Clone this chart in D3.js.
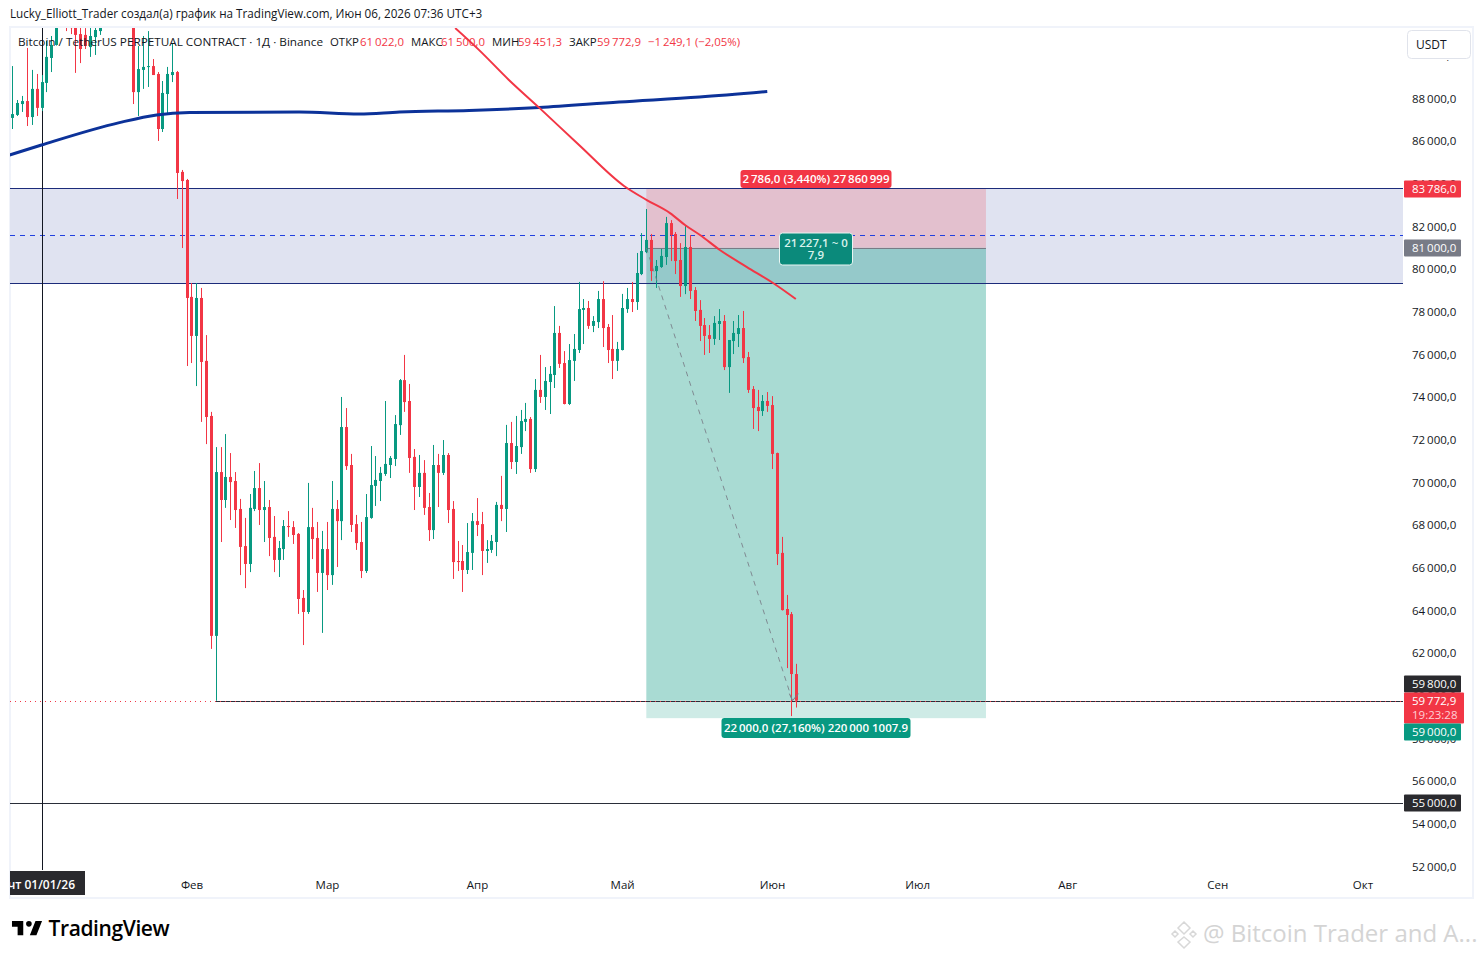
<!DOCTYPE html>
<html><head><meta charset="utf-8">
<script src="https://cdn.jsdelivr.net/npm/d3@7/dist/d3.min.js"></script>
<style>
html,body{margin:0;padding:0;background:#fff}
svg{display:block}
text{font-family:"Open Sans",sans-serif}
</style></head><body><svg id="c" width="1483" height="959"></svg>
<script>
// ---------- data (prices), one entry per trading day from 26 Dec 2025
const firstDay = Date.UTC(2025,11,26);
const opens = [87090,87230,87740,87880,87130,88450,87560,88730,89900,90510,91600,92300,91700,91400,91020,90980,90410,90880,91160,91600,93000,93500,96500,95600,95100,93600,88300,89340,89480,89520,89150,86570,88210,89100,89240,84560,84180,78700,76870,78650,75700,73120,62810,70490,69180,70260,70070,68760,67020,66180,68760,69740,68710,68850,67450,66370,66880,67960,67910,67590,64590,63930,67910,67400,65760,66880,65660,68760,68190,72600,70820,68050,67210,65850,68340,69840,70070,70400,70820,71100,72690,74800,73820,71200,69790,70450,68850,67770,70820,70450,71290,68760,66320,66320,65900,66700,68190,68050,66790,66840,67210,68950,68760,71850,70960,71660,72840,72980,70630,74340,74010,74710,75040,77010,75600,73680,75700,76210,78090,78180,77340,77520,78600,77290,76260,75700,76210,78130,78600,78460,79770,80800,81370,79910,80100,80570,82160,81650,80430,79210,81040,79020,78090,77380,76910,76730,77430,77570,75410,76630,76960,77240,75880,74380,73540,73350,73820,73630,71380,66700,64070,63830,61022];
const highs = [89520,87930,88120,90370,89340,89150,89100,90700,90930,91680,92700,92800,92500,92000,91400,91300,91400,91500,92000,93500,94500,97000,97800,96500,95500,94000,90460,90930,91160,89850,89240,88820,89480,90560,89290,84650,84230,79350,79350,79120,76910,73310,71660,71660,72270,71380,70490,69230,68340,69460,70540,70910,70070,69180,68430,67260,68240,68660,68190,67630,64960,69980,68810,68150,67730,68150,70070,69180,74010,73490,71340,68480,68150,69460,71710,71240,70730,73820,71240,73160,74850,75980,74620,71570,71290,71050,69510,71760,71340,71990,71380,69130,67260,67070,68100,68570,69270,68620,67300,67540,69090,70310,72700,72840,73120,73400,73730,73070,74850,75980,75410,75460,78270,77340,76160,76490,76960,79400,78600,78510,77800,78980,79440,77430,77850,76590,78840,79120,79400,80760,81690,82820,81650,80430,80950,82450,82300,81740,81220,82020,81600,79160,78550,77710,77380,77800,78130,77850,76680,77570,77850,78040,76120,74520,74340,74100,74240,74050,71400,67450,64730,63930,61500];
const lows = [86570,87180,87370,86710,86760,87180,87410,88300,89240,90480,91500,91160,91020,89200,89660,90320,89950,90040,90980,91400,92300,93000,95000,94500,92800,87740,87180,88450,88540,89100,86010,86430,87230,88770,83290,80990,75460,75600,74520,72840,71800,62200,59770,67210,68810,68240,67870,65660,65050,65800,68660,68010,67210,66550,65800,65570,66370,67450,67120,63840,62380,63840,66410,64870,62950,64960,65200,66040,67300,70590,67680,66840,65520,65760,68300,68900,69130,70310,70210,70770,72230,73310,70450,68710,69320,68480,67260,67350,68850,70350,68100,65480,65850,64870,65710,65900,67490,65660,66230,66700,66550,68190,67680,70630,70400,71340,72410,70450,70490,73730,73400,73210,74430,75370,73660,73630,74760,76070,76490,77200,77050,77240,76350,75600,74850,75230,76190,77950,77990,78090,79720,80750,79450,79120,80060,80200,80380,79770,78700,78830,78600,77570,76630,75980,76070,76450,76680,75270,74200,76020,76350,75600,74200,72510,72410,73120,73310,70630,66130,64000,61300,59050,59451.3];
const closes = [87270,87790,87880,87130,88450,87560,88770,89950,90510,91350,92400,91500,91300,90980,90320,90460,90930,91210,91350,93000,93500,96500,95600,95100,93600,88300,89380,89480,89520,89100,86570,88260,89150,89240,84510,84130,78650,76870,78650,75650,73070,62810,70490,69180,70260,70020,68710,66980,66180,68810,69740,68710,68850,67400,66370,66930,67960,67910,67540,64540,63930,67910,67350,65760,66880,65660,68760,68190,72600,70770,68010,67160,65850,68380,69880,70120,70450,70870,71150,72740,74800,73770,71150,69790,70450,68810,67770,70820,70450,71290,68710,66270,66270,65900,66740,68190,68010,66790,66880,67260,68950,68760,71850,70960,71710,72880,72980,70630,74340,74010,74760,75090,77010,75560,73680,75740,76260,78130,78180,77340,77570,78600,77240,76210,75700,76260,78180,78600,78460,79820,80850,81370,79910,80150,80620,82160,81600,80380,79210,81040,78980,78040,77340,76870,76730,77480,77570,75410,76680,77010,77240,75830,74340,73490,73350,73820,73590,71340,66650,64020,63790,61022,59772.9];
const maDays = [-6.6,0,16.1,23.8,30.6,53.3,65.7,74,88.4,102.9,119.4,136,150];
const maPrices = [85350,85820,86870,87230,87340,87370,87270,87370,87440,87580,87840,88070,88330];
const curveDays = [85.5,90.4,96.6,102.9,111.1,120.4,125.1,129.9,133,136.1,140.2,145.8,151.2,155.9];
const curvePrices = [91300,90280,88870,87560,85820,83900,83240,82630,82070,81600,80900,80100,79350,78600];
const axisPrices = d3.range(52000,90001,2000);
const monthDates = [[2026,1],[2026,2],[2026,3],[2026,4],[2026,5],[2026,6],[2026,7],[2026,8],[2026,9]];
const monthNames = ["Фев","Мар","Апр","Май","Июн","Июл","Авг","Сен","Окт"];
const zoneTop = 83786, entryPrice = 81000, targetPrice = 59000, closePrice = 59772.9;
const bandLow = 79330, midPrice = 81580, lowLine = 59800, supportLine = 55000;
const zoneStart = 125, zoneEnd = 195.2, lowLineStart = 36;
const legendLabels = ["ОТКР","МАКС","МИН","ЗАКР"];
const legendValues = ["61\u2009022,0","61\u2009500,0","59\u2009451,3","59\u2009772,9"];

// ---------- scales
const W=1483,H=959, paneL=10,paneR=1403,paneT=28,paneB=870;
const svg=d3.select("#c");
const dayMs=864e5, jan1=Date.UTC(2026,0,1);
const dateOf=n=>new Date(jan1+n*dayMs);
const x=d3.scaleUtc().domain([dateOf(0),dateOf(273)]).range([41.5,1362.4]);
const y=d3.scaleLinear().domain([52000,88000]).range([866.5,98.5]);
const fmt=d3.formatLocale({decimal:",",thousands:"\u2009",grouping:[3],currency:["",""]}).format(",.1f");
const GREEN="#089981",RED="#f23645",NAVY="#0c3299";
const candles=opens.map((o,i)=>({date:new Date(firstDay+i*dayMs),o,h:highs[i],l:lows[i],c:closes[i]}));

svg.append("rect").attr("width",W).attr("height",H).attr("fill","#fff");
const defs=svg.append("defs");
defs.append("clipPath").attr("id","pane").append("rect").attr("x",paneL).attr("y",paneT).attr("width",paneR-paneL).attr("height",paneB-paneT);
defs.append("clipPath").attr("id","dt").append("rect").attr("x",10).attr("y",871).attr("width",75).attr("height",24);
// frame
svg.append("rect").attr("x",10).attr("y",27).attr("width",1463).attr("height",871).attr("fill","none").attr("stroke","#f0f3fa").attr("stroke-width",2);

const g=svg.append("g").attr("clip-path","url(#pane)");
const hline=(p,x0,x1,col,dash)=>g.append("line").attr("x1",x0).attr("x2",x1).attr("y1",Math.round(y(p))+.5).attr("y2",Math.round(y(p))+.5).attr("stroke",col).attr("stroke-dasharray",dash||null);
// band
g.append("rect").attr("x",paneL).attr("width",paneR-paneL).attr("y",y(zoneTop)).attr("height",y(bandLow)-y(zoneTop)).attr("fill","#e0e3f1");
// position tool
const zx0=x(dateOf(zoneStart)),zx1=x(dateOf(zoneEnd));
g.append("rect").attr("x",zx0).attr("width",zx1-zx0).attr("y",y(zoneTop)).attr("height",y(entryPrice)-y(zoneTop)).attr("fill",RED).attr("fill-opacity",.2);
g.append("rect").attr("x",zx0).attr("width",zx1-zx0).attr("y",y(entryPrice)).attr("height",y(closePrice)-y(entryPrice)).attr("fill",GREEN).attr("fill-opacity",.35);
g.append("rect").attr("x",zx0).attr("width",zx1-zx0).attr("y",y(closePrice)).attr("height",y(targetPrice)-y(closePrice)+1).attr("fill",GREEN).attr("fill-opacity",.2);
hline(entryPrice,zx0,zx1,"#787b86");
// levels
hline(zoneTop,paneL,paneR,"#1c2b7a");
hline(bandLow,paneL,paneR,"#1c2b7a");
hline(midPrice,paneL,paneR,"#2040e0","5 5");
hline(closePrice,x(dateOf(lowLineStart)),paneR,"#2a2e39");
hline(closePrice,paneL,paneR,RED,"1 4");
hline(supportLine,paneL,paneR,"#2a2e39");
// vertical line at the start of the year
g.append("line").attr("x1",42.5).attr("x2",42.5).attr("y1",paneT).attr("y2",paneB).attr("stroke","#131722");

// candles
const cg=g.append("g").selectAll("g").data(candles).join("g").attr("transform",d=>`translate(${Math.round(x(d.date))},0)`);
cg.append("line").attr("x1",.5).attr("x2",.5).attr("y1",d=>y(d.h)).attr("y2",d=>y(d.l)).attr("stroke",d=>d.c>=d.o?GREEN:RED);
cg.append("rect").attr("x",-1).attr("width",3).attr("y",d=>y(Math.max(d.o,d.c))).attr("height",d=>Math.max(1,Math.abs(y(d.o)-y(d.c)))).attr("fill",d=>d.c>=d.o?GREEN:RED);

// MA + curve
const line=d3.line().x(d=>x(dateOf(d[0]))).y(d=>y(d[1])).curve(d3.curveMonotoneX);
g.append("path").attr("d",line(maDays.map((d,i)=>[d,maPrices[i]]))).attr("fill","none").attr("stroke",NAVY).attr("stroke-width",3);
g.append("path").attr("d",line(curveDays.map((d,i)=>[d,curvePrices[i]]))).attr("fill","none").attr("stroke",RED).attr("stroke-width",2);
// diagonal path of the position tool
const ax0=x(dateOf(zoneStart)),ay0=y(entryPrice),ax1=x(dateOf(155.2)),ay1=y(closePrice);
g.append("line").attr("x1",ax0).attr("y1",ay0).attr("x2",ax1).attr("y2",ay1).attr("stroke","#787b86").attr("stroke-opacity",.85).attr("stroke-dasharray","5 5");
g.append("path").attr("d",`M${ax1+6},${ay1-7}L${ax1},${ay1}L${ax1-3},${ay1-7}`).attr("fill","none").attr("stroke","#787b86");

// axes
const yAxis=d3.axisRight(y).tickValues(axisPrices).tickFormat(fmt).tickSize(0).tickPadding(0);
const ya=svg.append("g").attr("transform","translate(1412,0)").call(yAxis);
ya.select(".domain").remove();
ya.selectAll("text").attr("font-size",11.5).attr("font-family",'"Open Sans",sans-serif').attr("fill","#131722");
const xAxis=d3.axisBottom(x).tickValues(monthDates.map(m=>new Date(Date.UTC(m[0],m[1],1)))).tickFormat((d,i)=>monthNames[i]).tickSize(0).tickPadding(0);
const xa=svg.append("g").attr("transform","translate(0,881)").call(xAxis);
xa.select(".domain").remove();
xa.selectAll("text").attr("font-size",11.5).attr("font-family",'"Open Sans",sans-serif').attr("fill","#131722");

// USDT button (covers the top tick label, as in the source)
svg.append("rect").attr("x",1405).attr("y",29).attr("width",67).attr("height",31).attr("fill","#fff");
svg.append("rect").attr("x",1407.5).attr("y",30.5).attr("width",63).attr("height",28).attr("rx",4).attr("fill","#fff").attr("stroke","#e0e3eb");
svg.append("text").attr("x",1416).attr("y",49).attr("font-size",12).attr("fill","#131722").text("USDT");

// price tags
function tag(yc,h,w,col,lines){
  svg.append("rect").attr("x",1404).attr("y",yc-h/2).attr("width",w).attr("height",h).attr("rx",1).attr("fill",col);
  lines.forEach((t,i)=>svg.append("text").attr("x",1412).attr("y",yc-(lines.length-1)*7+i*14+4).attr("font-size",11.5).attr("font-weight",500).attr("fill",i?"#ffd0d5":"#fff").text(t));
}
tag(189,17,57,RED,[fmt(zoneTop)]);
tag(248,17,57,"#787b86",[fmt(entryPrice)]);
tag(684,17,57,"#2a2a2e",[fmt(lowLine)]);
tag(708,31,60,RED,[fmt(closePrice),"19:23:28"]);
tag(732,17,57,GREEN,[fmt(targetPrice)]);
tag(803,17,57,"#2a2a2e",[fmt(supportLine)]);

// date tag
svg.append("rect").attr("x",10).attr("y",871).attr("width",75).attr("height",24).attr("fill","#2a2a2e");
svg.append("text").attr("clip-path","url(#dt)").attr("x",75).attr("y",889).attr("text-anchor","end").attr("font-size",12).attr("font-weight",600).attr("fill","#fff").text("чт 01/01/26");

// position labels
function plabel(cx,top,w,h,col,lines,tc,border){
  svg.append("rect").attr("x",cx-w/2).attr("y",top).attr("width",w).attr("height",h).attr("rx",3).attr("fill",col).attr("stroke",border||"none");
  lines.forEach((t,i)=>svg.append("text").attr("x",cx).attr("y",top+h/2+4-(lines.length-1)*6+i*12).attr("text-anchor","middle").attr("font-size",11.5).attr("font-weight",600).attr("fill",tc).text(t));
}
plabel(816,170,151,18,RED,["2\u2009786,0 (3,440%) 27\u2009860\u2009999"],"#fff");
plabel(816,233,73,32,"#0b8a7b",["21\u2009227,1 ~ 0","7,9"],"#d8f2ec","#e8f5f2");
plabel(816,718,189,20,GREEN,["22\u2009000,0 (27,160%) 220\u2009000 1007.9"],"#fff");

// header and legend
svg.append("text").attr("x",10).attr("y",18).attr("font-size",11.7).attr("fill","#131722").text("Lucky_Elliott_Trader создал(а) график на TradingView.com, Июн 06, 2026 07:36 UTC+3");
const LS=11.4;
svg.append("text").attr("x",18).attr("y",46).attr("font-size",LS).attr("textLength",305).attr("lengthAdjust","spacingAndGlyphs").attr("fill","#131722").text("Bitcoin / TetherUS PERPETUAL CONTRACT · 1Д · Binance");
const labelX=[330,411,492,569], valueX=[360,441,518,597];
legendLabels.forEach((t,i)=>{
  svg.append("text").attr("x",labelX[i]).attr("y",46).attr("font-size",LS).attr("fill","#131722").text(t);
  svg.append("text").attr("x",valueX[i]).attr("y",46).attr("font-size",LS).attr("fill",RED).text(legendValues[i]);
});
svg.append("text").attr("x",648).attr("y",46).attr("font-size",LS).attr("fill",RED).text("−1\u2009249,1 (−2,05%)");

// TradingView logo
svg.append("path").attr("transform","translate(10.1,915.4) scale(.94)").attr("fill","#000").attr("d","M14 6H2v6h6v9h6V6zm14 15h-7l6-15h7l-6 15zm-8-9a3 3 0 1 0 0-6 3 3 0 0 0 0 6z");
svg.append("text").attr("x",48.5).attr("y",936).attr("font-family","Inter,sans-serif").attr("font-size",21).attr("font-weight",600).attr("letter-spacing",-.4).attr("fill","#000").text("TradingView");

// watermark
const wm=svg.append("g").attr("fill","none").attr("stroke","#d8d8d8").attr("stroke-width",1.5);
wm.append("path").attr("d","M1184 922l6 6-6 6-6-6zM1175 931l3 3-3 3-3-3zM1193 931l3 3-3 3-3-3zM1184 937l6 5-6 6-6-6z");
svg.append("text").attr("x",1203).attr("y",942).attr("font-size",24).attr("fill","#d4d4d4").text("@ Bitcoin Trader and A...");
</script></body></html>
